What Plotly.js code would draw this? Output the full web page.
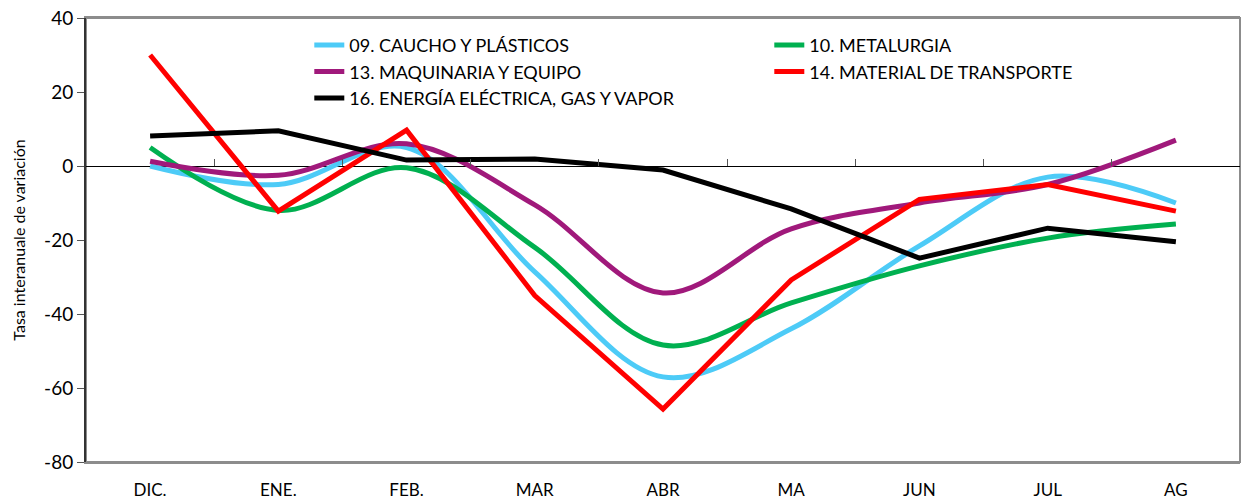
<!DOCTYPE html>
<html><head><meta charset="utf-8">
<script src="https://cdn.plot.ly/plotly-3.0.1.min.js"></script>
<style>body{margin:0;background:#fff}#c{width:1245px;height:500px}</style>
</head><body><div id="c"></div>
<script>
const months = ["DIC.","ENE.","FEB.","MAR","ABR","MA","JUN","JUL","AG"];
const caucho = [0,-5,5,-28.6,-57,-44,-21.6,-3,-10];
const metalurgia = [5,-12,-0.5,-22,-48.4,-37,-27,-19.5,-15.7];
const maquinaria = [1.3,-2.5,6,-10.5,-34.3,-17,-10,-5,7];
const transporte = [30,-12.2,9.7,-35,-65.7,-30.8,-9,-5,-12.2];
const energia = [8.1,9.5,1.6,1.9,-1.1,-11.6,-24.9,-16.8,-20.5];
const names = ["09. CAUCHO Y PLÁSTICOS","10. METALURGIA","13. MAQUINARIA Y EQUIPO","14. MATERIAL DE TRANSPORTE","16. ENERGÍA ELÉCTRICA, GAS Y VAPOR"];
const yTickVals = [-80,-60,-40,-20,0,20,40];
const yTickText = ["-80","-60","-40","-20","0","20","40"];
const FONT = "Lato, 'Open Sans', sans-serif";

function tr(y, name, color, smooth){
  return {x: months, y: y, name: name, type:'scatter', mode:'lines',
    line:{color:color, width:5, shape: smooth ? 'spline' : 'linear', smoothing:1}};
}
const data = [
  tr(caucho, names[0], '#4DCBF7', true),
  tr(metalurgia, names[1], '#00B050', true),
  tr(maquinaria, names[2], '#A0197B', true),
  tr(transporte, names[3], '#FF0000', false),
  tr(energia, names[4], '#000000', false)
];
const layout = {
  width:1245, height:500,
  margin:{l:86, r:5, t:18, b:38, autoexpand:false},
  paper_bgcolor:'#fff', plot_bgcolor:'#fff',
  font:{family:FONT, color:'#000', size:16},
  showlegend:true,
  legend:{orientation:'h', x:0.1935, xanchor:'left', y:0.98, yanchor:'top',
    entrywidth:415, entrywidthmode:'pixels', bgcolor:'rgba(255,255,255,0)',
    font:{family:FONT, size:18, color:'#000'}, tracegroupgap:0},
  xaxis:{type:'category', categoryorder:'array', categoryarray:months, range:[-0.5,8.5],
    showgrid:false, zeroline:false, showline:true, linecolor:'#8c8c8c', linewidth:2, mirror:true,
    ticks:'', ticklabelstandoff:12, tickfont:{family:FONT, size:17}},
  xaxis2:{overlaying:'x', anchor:'free', position:0.6667, side:'top', range:[-0.5,8.5],
    tickvals:[0.5,1.5,2.5,3.5,4.5,5.5,6.5,7.5], ticks:'outside', ticklen:7, tickcolor:'#555', tickwidth:1,
    showticklabels:false, showgrid:false, zeroline:false, showline:false},
  yaxis:{range:[-80,40], tickvals:yTickVals, ticktext:yTickText, showgrid:false,
    zeroline:true, zerolinecolor:'#000', zerolinewidth:1,
    showline:true, linecolor:'#333', linewidth:2, ticks:'outside', ticklen:7, tickcolor:'#555',
    tickfont:{family:FONT, size:19},
    title:{text:'Tasa interanuale de variación', font:{family:FONT, size:16}, standoff:14}},
  shapes:[{type:'rect', xref:'paper', yref:'paper', x0:0, x1:1, y0:0, y1:1, line:{color:'#8c8c8c', width:2}, layer:'below'}]
};
data.push({x:[0], y:[0], xaxis:'x2', yaxis:'y', mode:'markers', marker:{opacity:0}, showlegend:false, hoverinfo:'skip'});
Plotly.newPlot('c', data, layout, {displayModeBar:false, staticPlot:true});
</script></body></html>
